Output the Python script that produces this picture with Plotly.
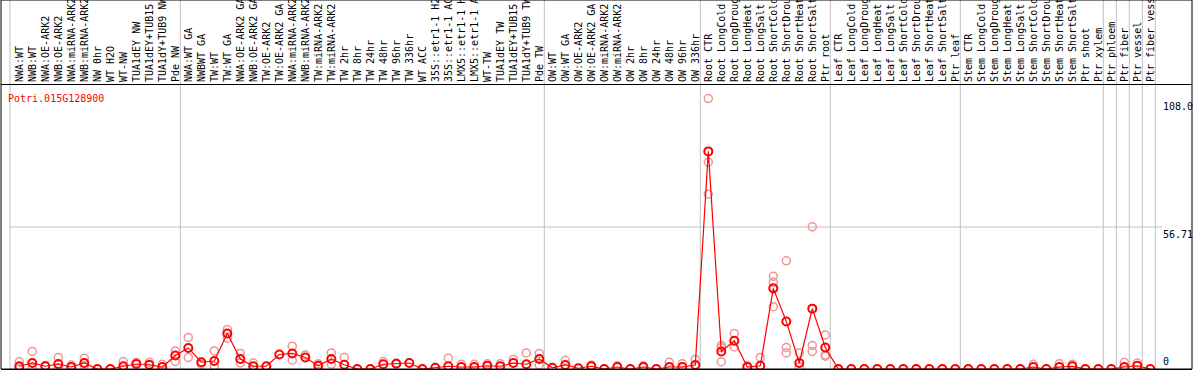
import plotly.graph_objects as go

gene = "Potri.015G128900"

labels = [
    "NWA:WT", "NWB:WT", "NWA:OE-ARK2", "NWB:OE-ARK2", "NWA:miRNA-ARK2", "NWB:miRNA-ARK2",
    "NW 0hr", "WT H2O", "WT-NW", "TUA1dEY NW", "TUA1dEY+TUB15 NW", "TUA1dY+TUB9 NW", "Pde NW",
    "NWA:WT GA", "NWBWT GA", "TW:WT", "TW:WT GA", "NWA:OE-ARK2 GA", "NWB:OE-ARK2 GA",
    "TW:OE-ARK2", "TW:OE-ARK2 GA", "NWA:miRNA-ARK2 GA", "NWB:miRNA-ARK2 GA", "TW:miRNA-ARK2",
    "TW:miRNA-ARK2 GA", "TW 2hr", "TW 8hr", "TW 24hr", "TW 48hr", "TW 96hr", "TW 336hr",
    "WT ACC", "35S::etr1-1 H2O", "35S::etr1-1 ACC", "LMX5::etr1-1 H2O", "LMX5::etr1-1 ACC",
    "WT-TW", "TUA1dEY TW", "TUA1dEY+TUB15 TW", "TUA1dY+TUB9 TW", "Pde TW",
    "OW:WT", "OW:WT GA", "OW:OE-ARK2", "OW:OE-ARK2 GA", "OW:miRNA-ARK2", "OW:miRNA-ARK2 GA",
    "OW 2hr", "OW 8hr", "OW 24hr", "OW 48hr", "OW 96hr", "OW 336hr",
    "Root CTR", "Root LongCold", "Root LongDrought", "Root LongHeat", "Root LongSalt",
    "Root ShortCold", "Root ShortDrought", "Root ShortHeat", "Root ShortSalt", "Ptr root",
    "Leaf CTR", "Leaf LongCold", "Leaf LongDrought", "Leaf LongHeat", "Leaf LongSalt",
    "Leaf ShortCold", "Leaf ShortDrought", "Leaf ShortHeat", "Leaf ShortSalt", "Ptr leaf",
    "Stem CTR", "Stem LongCold", "Stem LongDrought", "Stem LongHeat", "Stem LongSalt",
    "Stem ShortCold", "Stem ShortDrought", "Stem ShortHeat", "Stem ShortSalt", "Ptr shoot",
    "Ptr xylem", "Ptr phloem", "Ptr fiber", "Ptr vessel", "Ptr fiber vessel",
]

mean_vals = [
    1.1, 2.4, 1.1, 2.0, 0.8, 2.4, 0, 0, 1.1, 2.0, 1.7, 0.8, 5.4,
    8.4, 2.7, 3.2, 14.2, 4.0, 1.1, 1.1, 5.8, 6.2, 4.6, 1.3, 4.0, 1.7, 0, 0, 1.9, 2.1, 2.4,
    0, 0.5, 1.1, 0.8, 0.8, 1.3, 1.1, 2.4, 1.9, 4.0,
    0.5, 1.6, 0.3, 1.1, 0, 0.8, 0, 0.8, 0, 0.8, 0.8, 1.6,
    86.9, 7.0, 11.3, 0.8, 1.3, 32.2, 19.0, 2.4, 24.1, 8.6,
    0, 0, 0, 0, 0, 0, 0, 0, 0, 0,
    0, 0, 0, 0, 0, 0.8, 0, 0.8, 1.1, 0, 0,
    0, 0.8, 1.3, 0,
]

N_ = None
rep1 = [
    2.9, 7.0, 1.4, 4.6, 1.6, 4.3, N_, N_, 3.0, 2.7, 2.7, 1.9, 7.2,
    12.6, 1.9, 7.2, 15.8, 6.2, 2.4, N_, N_, 9.1, 5.6, 2.1, 6.4, 4.6, N_, N_, 3.0, 2.4, N_,
    N_, N_, 4.3, 1.9, 1.9, 2.1, 2.1, 3.8, 6.4, 6.2,
    N_, 3.5, N_, 1.6, N_, 1.3, N_, 1.3, N_, 2.7, 2.1, 3.8,
    108.0, 9.4, 14.2, 1.3, 4.6, 37.0, 43.2, 6.4, 56.8, 13.6,
    N_, N_, N_, N_, N_, N_, N_, N_, N_, N_,
    N_, N_, N_, N_, N_, 1.9, N_, 2.1, 1.9, N_, N_,
    N_, 2.7, 2.4, N_,
]
rep2 = [
    0.5, 0.3, N_, 0.5, N_, 1.4, N_, N_, N_, N_, N_, N_, 3.0,
    4.6, N_, 1.1, 12.3, 2.4, N_, N_, N_, 3.5, N_, N_, 1.9, N_, N_, N_, N_, N_, N_,
    N_, N_, N_, N_, N_, N_, N_, N_, N_, 1.6,
    N_, N_, N_, N_, N_, N_, N_, N_, N_, N_, N_, N_,
    82.6, 8.5, 8.8, N_, N_, 34.6, 8.6, 0.8, 9.4, 5.6,
    N_, N_, N_, N_, N_, N_, N_, N_, N_, N_,
    N_, N_, N_, N_, N_, N_, N_, N_, N_, N_, N_,
    N_, N_, N_, N_,
]
rep3 = [
    N_, N_, N_, N_, N_, N_, N_, N_, N_, N_, N_, N_, N_,
    N_, N_, N_, N_, N_, N_, N_, N_, N_, N_, N_, N_, N_, N_, N_, N_, N_, N_,
    N_, N_, N_, N_, N_, N_, N_, N_, N_, N_,
    N_, N_, N_, N_, N_, N_, N_, N_, N_, N_, N_, N_,
    69.8, 2.9, N_, N_, N_, 24.9, 6.4, N_, 7.0, 5.1,
    N_, N_, N_, N_, N_, N_, N_, N_, N_, N_,
    N_, N_, N_, N_, N_, N_, N_, N_, N_, N_, N_,
    N_, N_, N_, N_,
]

group_starts = [13, 41, 53, 63, 73, 84, 85, 86, 87, 88]
y_tick_vals = [108.0, 56.71, 0]
y_tick_text = ["108.0", "56.71", "0"]
y_max = 113.42
grid_val = 56.71

# ---- layout geometry ----
W, H = 1194, 370
ML, MR, MT, MB = 1, 2, 85, 1
P0, STEP = 19.3, 13.0
x_lo = (ML - P0) / STEP
x_hi = (W - MR - P0) / STEP
plot_w = W - ML - MR
plot_h = H - MT - MB
top_paper = (H - MB) / plot_h  # paper y of figure top

xs = list(range(len(labels)))
FONT = "DejaVu Sans Mono"
RED = "#ff0000"
PINK = "rgb(238,150,150)"

fig = go.Figure()
for rep in (rep1, rep2, rep3):
    fig.add_trace(go.Scatter(
        x=xs, y=rep, mode="markers",
        marker=dict(symbol="circle-open", size=8, color=PINK, line=dict(width=1.5)),
        showlegend=False, hoverinfo="skip",
    ))
fig.add_trace(go.Scatter(
    x=xs, y=mean_vals, mode="lines+markers",
    line=dict(color=RED, width=1.2),
    marker=dict(symbol="circle-open", size=8, color=RED, line=dict(width=2)),
    showlegend=False,
))

shapes = []
left_edge = -9.3 / STEP
shapes.append(dict(type="line", xref="x", yref="paper", x0=left_edge, x1=left_edge,
                   y0=0, y1=top_paper, line=dict(color="#c0c0c0", width=1), layer="below"))
for k in group_starts:
    xv = k - 1 + 5.0 / STEP
    shapes.append(dict(type="line", xref="x", yref="paper", x0=xv, x1=xv,
                       y0=0, y1=top_paper, line=dict(color="#c0c0c0", width=1), layer="below"))
shapes.append(dict(type="line", xref="x", yref="y", x0=left_edge, x1=(1162 - P0) / STEP,
                   y0=grid_val, y1=grid_val, line=dict(color="#c0c0c0", width=1), layer="below"))
shapes.append(dict(type="rect", xref="paper", yref="paper", x0=0, x1=1, y0=0, y1=top_paper,
                   line=dict(color="black", width=1), fillcolor="rgba(0,0,0,0)"))

annotations = [dict(
    text=gene, xref="paper", yref="paper", x=(6 - ML) / plot_w, y=(H - MB - 98) / plot_h,
    xanchor="left", yanchor="middle", showarrow=False,
    font=dict(family=FONT, size=10, color=RED),
)]
lab_x = (1161 - ML) / plot_w
for v, t in zip(y_tick_vals, y_tick_text):
    annotations.append(dict(
        text=t, xref="paper", yref="y", x=lab_x, y=v,
        xanchor="left", yanchor=("bottom" if v == 0 else "top"), showarrow=False,
        font=dict(family=FONT, size=10, color="black"),
    ))

fig.update_layout(
    width=W, height=H, margin=dict(l=ML, r=MR, t=MT, b=MB),
    paper_bgcolor="white", plot_bgcolor="white",
    shapes=shapes, annotations=annotations,
    xaxis=dict(
        side="top", range=[x_lo, x_hi], tickmode="array", tickvals=xs, ticktext=labels,
        tickangle=-90, ticks="", showline=True, linecolor="black", linewidth=1, mirror=True,
        showgrid=False, zeroline=False, automargin=False,
        tickfont=dict(family=FONT, size=10, color="black"),
    ),
    yaxis=dict(range=[0, y_max], showticklabels=False, showgrid=False, zeroline=False,
               showline=False, automargin=False),
    showlegend=False,
)

fig.write_html(
    "out.html",
    config={"displayModeBar": False},
    post_script="document.body.style.margin='0';document.body.style.overflow='hidden';",
)
